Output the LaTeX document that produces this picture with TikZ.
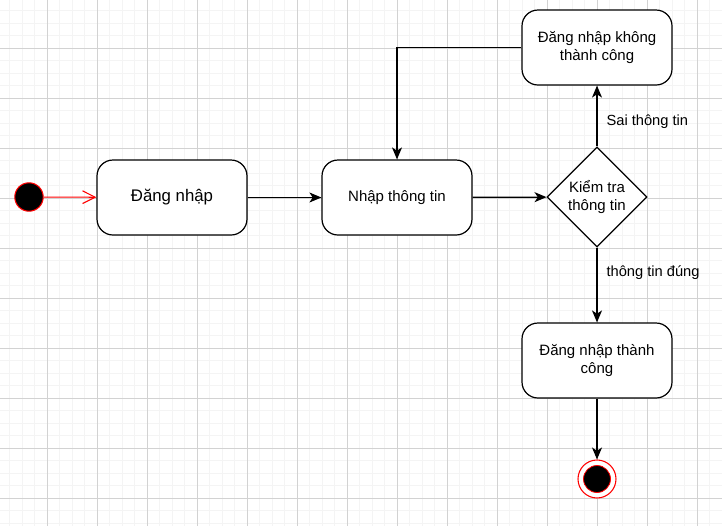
\documentclass[tikz,border=0pt]{standalone}
\usepackage{fontspec}
\setmainfont{Liberation Sans}
\usetikzlibrary{shapes.geometric,arrows.meta}

\begin{document}
\begin{tikzpicture}[x=0.75pt,y=0.75pt,yscale=-1,xscale=1,
  gridminor/.style={draw={rgb,255:red,244;green,244;blue,244},line width=0.5pt},
  gridmajor/.style={draw={rgb,255:red,210;green,210;blue,210},line width=0.6pt},
  state/.style={draw,fill=white,rounded corners=12pt,minimum width=112.5pt,minimum height=56.25pt,line width=0.9pt,align=center,inner sep=1pt,font=\fontsize{11.25}{13.5}\selectfont},
  decision/.style={draw,fill=white,diamond,aspect=1,minimum width=75pt,minimum height=75pt,inner sep=0pt,line width=0.9pt,align=center,font=\fontsize{11.25}{13.5}\selectfont},
  flow/.style={line width=0.9pt,-{Stealth[length=9pt,width=7.5pt,inset=2.5pt]}},
  lbl/.style={anchor=west,inner sep=0.75pt,xshift=6pt,font=\fontsize{11}{13}\selectfont}
]
\useasboundingbox (0,0) rectangle (722,526);
\fill[white] (0,0) rectangle (722,526);

%Grid
\foreach \k in {0,...,57} \draw[gridminor] ({9.5+12.5*\k},0) -- ({9.5+12.5*\k},526);
\foreach \k in {0,...,41} \draw[gridminor] (0,{10.5+12.5*\k}) -- (722,{10.5+12.5*\k});
\foreach \k in {0,...,13} \draw[gridmajor] ({47+50*\k},0) -- ({47+50*\k},526);
\foreach \k in {0,...,9} \draw[gridmajor] (0,{48+50*\k}) -- (722,{48+50*\k});

%Start and end states
\node[circle,draw=red,fill=black,line width=0.8pt,minimum size=21.3pt,inner sep=0pt] (start) at (29,197) {};
\node[circle,draw=red,fill=white,line width=0.8pt,minimum size=28.5pt,inner sep=0pt] (stop) at (597,479) {};
\fill[black,draw=red,line width=0.6pt] (stop.center) circle[radius=13.5];

%Actions
\node[state,font=\fontsize{12.6}{15}\selectfont] (login) at (172,197.5) {Đăng nhập};
\node[state] (input) at (397,197.5) {Nhập thông tin};
\node[decision] (check) at (597,197) {Kiểm tra\\thông tin};
\node[state] (fail) at (597,47.5) {Đăng nhập không\\thành công};
\node[state] (success) at (597,360.5) {Đăng nhập thành\\công};

%Connectors
\draw[red,line width=0.8pt,-{Straight Barb[length=9.5pt,width=9.5pt]}] (start) -- (login);
\draw[flow] (login) -- (input);
\draw[flow] (input) -- (check);
\draw[flow] (check.north) -- node[lbl,pos=0.4] {Sai thông tin} (fail.south);
\draw[flow] (fail.west) -| (input.north);
\draw[flow] (check.south) -- node[lbl,pos=0.33] {thông tin đúng} (success.north);
\draw[flow] (success.south) -- (stop.north);

\end{tikzpicture}
\end{document}
